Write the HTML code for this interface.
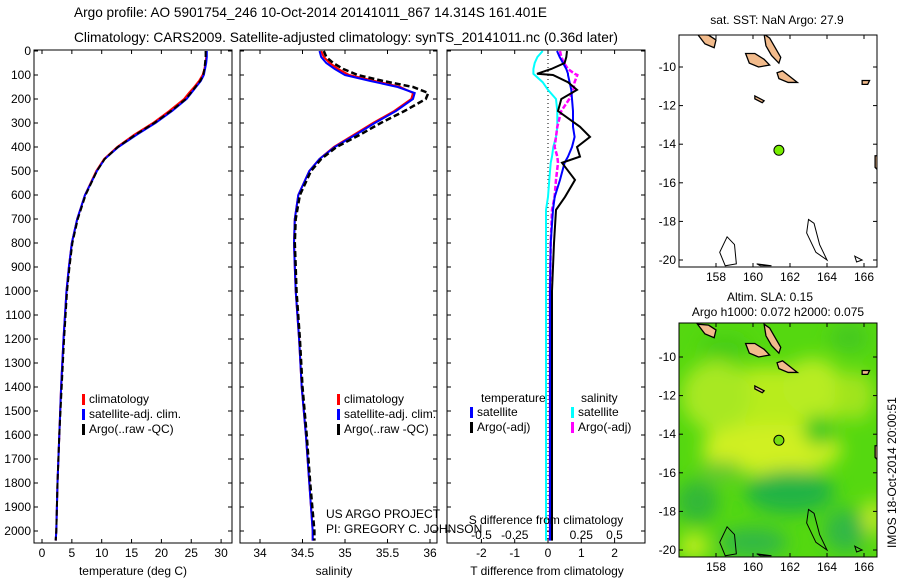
<!DOCTYPE html>
<html><head><meta charset="utf-8"><style>
body{margin:0;background:#fff;}
svg{display:block;font-family:"Liberation Sans",sans-serif;}
text{font-size:12px;fill:#000;}
</style></head><body>
<svg id="c" width="900" height="580" viewBox="0 0 900 580">
<text x="74" y="17" textLength="473" lengthAdjust="spacingAndGlyphs" style="font-size:14px">Argo profile: AO 5901754_246 10-Oct-2014 20141011_867 14.314S 161.401E</text>
<text x="74" y="42" textLength="544" lengthAdjust="spacingAndGlyphs" style="font-size:14px">Climatology: CARS2009. Satellite-adjusted climatology: synTS_20141011.nc (0.36d later)</text>
<g id="g"></g>
</svg>
<script>
// ---- profile data ----
const depths=[0,25,50,75,100,125,150,175,200,250,300,350,400,450,500,600,700,800,900,1000,1200,1400,1600,1800,2000,2040];
const tempClim=[27.5,27.5,27.4,27.2,26.9,26.3,25.5,24.6,23.8,21.3,18.6,15.4,12.6,10.4,9.1,7.2,5.9,5.0,4.5,4.1,3.6,3.2,2.9,2.6,2.4,2.3];
const tempSat=[27.6,27.6,27.5,27.3,27.1,26.6,25.8,25.0,24.2,21.8,19.0,15.8,12.8,10.5,9.2,7.2,5.9,5.0,4.5,4.1,3.6,3.2,2.9,2.6,2.4,2.3];
const tempArgo=[27.4,27.4,27.3,27.2,27.0,26.5,25.7,24.9,24.1,21.6,18.8,15.6,12.7,10.5,9.2,7.3,6.0,5.1,4.6,4.2,3.7,3.3,2.9,2.6,2.4,2.3];
const salClim=[34.72,34.75,34.82,34.92,35.05,35.35,35.65,35.8,35.78,35.58,35.33,35.1,34.87,34.7,34.58,34.45,34.41,34.40,34.41,34.42,34.46,34.49,34.54,34.58,34.62,34.62];
const salSat=[34.7,34.72,34.78,34.88,35.0,35.3,35.62,35.82,35.8,35.6,35.35,35.12,34.88,34.7,34.58,34.45,34.41,34.40,34.41,34.42,34.46,34.49,34.54,34.58,34.62,34.62];
const salArgo=[34.75,34.78,34.86,34.98,35.15,35.45,35.8,35.98,35.95,35.7,35.42,35.17,34.9,34.72,34.6,34.47,34.42,34.41,34.42,34.43,34.47,34.5,34.55,34.59,34.64,34.64];
// ---- difference data ----
const diffDepths=[0,25,50,75,95,100,130,162,200,250,316,358,400,440,466,537,608,662,800,1000,1200,1400,1600,1800,2000,2040];
const dTsat=[0.27,0.35,0.45,0.55,0.6,0.6,0.65,0.7,0.72,0.75,0.75,0.8,0.72,0.6,0.5,0.36,0.2,0.15,0.08,0.06,0.06,0.06,0.06,0.06,0.06,0.06];
const dTargo=[0.57,0.55,0.5,0.1,-0.33,0.15,0.6,0.87,0.4,0.3,0.96,1.26,0.87,0.96,0.42,0.81,0.51,0.24,0.18,0.12,0.12,0.12,0.12,0.12,0.12,0.12];
const dSsat=[-0.04,-0.08,-0.1,-0.11,-0.11,-0.1,-0.04,0.0,0.06,0.07,0.07,0.06,0.04,0.03,0.02,0.01,0.0,-0.015,-0.015,-0.015,-0.015,-0.015,-0.015,-0.015,-0.015,-0.015];
const dSargo=[0.09,0.1,0.12,0.15,0.2,0.22,0.2,0.19,0.16,0.1,0.07,0.06,0.05,0.07,0.075,0.06,0.05,0.03,0.02,0.015,0.015,0.015,0.015,0.015,0.015,0.015];
const depthTicks=[0,100,200,300,400,500,600,700,800,900,1000,1100,1200,1300,1400,1500,1600,1700,1800,1900,2000];
const tempTicks=[0,5,10,15,20,25,30];
const salTicks=[34,34.5,35,35.5,36];
const dTTicks=[-2,-1,0,1,2];
const dSTicks=[-0.5,-0.25,0,0.25,0.5];
const lonTicks=[158,160,162,164,166];
const latTicks=[-10,-12,-14,-16,-18,-20];
const argoLon=161.401, argoLat=-14.314;

const NS='http://www.w3.org/2000/svg';
const G=document.getElementById('g');
function el(tag,attrs,parent,txt){const e=document.createElementNS(NS,tag);for(const k in attrs)e.setAttribute(k,attrs[k]);if(txt!==undefined)e.textContent=txt;(parent||G).appendChild(e);return e;}
const yD=d=>51+d*0.24;
const TOP=51,BOT=543;
function frame(x0,x1,name){const r=el('rect',{x:x0,y:TOP-1,width:x1-x0,height:BOT-TOP+1,fill:'none',stroke:'#000'});}
function line(xs,dd,xf,col,w,dash,name){const p=el('polyline',{points:xs.map((v,i)=>xf(v).toFixed(1)+','+yD(dd[i]).toFixed(1)).join(' '),fill:'none',stroke:col,'stroke-width':w});if(dash)p.setAttribute('stroke-dasharray',dash);}
function xticks(ticks,f,labelY){ticks.forEach(t=>{const x=f(t);el('line',{x1:x,x2:x,y1:BOT,y2:BOT-4,stroke:'#000'});el('line',{x1:x,x2:x,y1:TOP-1,y2:TOP+3,stroke:'#000'});const tx=el('text',{x:x,y:labelY,'text-anchor':'middle'},null,String(t));});}
function yticks(x0,x1,labels){depthTicks.forEach(d=>{const y=yD(d);el('line',{x1:x0,x2:x0+4,y1:y,y2:y,stroke:'#000'});el('line',{x1:x1,x2:x1-4,y1:y,y2:y,stroke:'#000'});if(labels){const t=el('text',{x:x0-3,y:y+4,'text-anchor':'end'},null,String(d));}});}
function legend(x,y,items){items.forEach((it,i)=>{el('rect',{x:x,y:y+i*15-9,width:3,height:11,fill:it[0]});const t=el('text',{x:x+7,y:y+i*15},null,it[1]);});}

// Panel 1 temperature
const xT=t=>42+t*5.97;
frame(34,232,'temperature-panel');yticks(34,232,true);xticks(tempTicks,xT,557);
line(tempClim,depths,xT,'#f00',2,null,'temp-climatology-line');
line(tempSat,depths,xT,'#00f',2,null,'temp-satellite-line');
line(tempArgo,depths,xT,'#000',2,'6,3','temp-argo-line');
let t1=el('text',{x:133,y:575,'text-anchor':'middle'},null,'temperature (deg C)');
legend(82,403,[['#f00','climatology'],['#00f','satellite-adj. clim.'],['#000','Argo(..raw -QC)']]);

// Panel 2 salinity
const xS=s=>260+(s-34)*85;
frame(240,437,'salinity-panel');yticks(240,437,false);xticks(salTicks,xS,557);
line(salClim,depths,xS,'#f00',2,null,'sal-climatology-line');
line(salSat,depths,xS,'#00f',2,null,'sal-satellite-line');
line(salArgo,depths,xS,'#000',2.5,'6,3','sal-argo-line');
let t2=el('text',{x:334,y:575,'text-anchor':'middle'},null,'salinity');
legend(337,403,[['#f00','climatology'],['#00f','satellite-adj. clim.'],['#000','Argo(..raw -QC)']]);
let c1=el('text',{x:326,y:518},null,'US ARGO PROJECT');
let c2=el('text',{x:326,y:533},null,'PI: GREGORY C. JOHNSON');

// Panel 3 differences
const xdT=v=>548+v*33.3;
const xdS=v=>548+v*133;
frame(447,645,'difference-panel');yticks(447,645,false);
dTTicks.forEach(t=>{const x=xdT(t);el('line',{x1:x,x2:x,y1:BOT,y2:BOT-4,stroke:'#000'});el('line',{x1:x,x2:x,y1:TOP-1,y2:TOP+3,stroke:'#000'});const tx=el('text',{x:x,y:557,'text-anchor':'middle'},null,String(t));});
dSTicks.forEach(t=>{const tx=el('text',{x:xdS(t),y:539,'text-anchor':'middle'},null,String(t));});
el('line',{x1:548,x2:548,y1:51,y2:543,stroke:'#000','stroke-dasharray':'1,3'});
line(dSsat,diffDepths,xdS,'#0ff',2,null,'sal-diff-satellite-line');
line(dSargo,diffDepths,xdS,'#f0f',2.5,'5,2','sal-diff-argo-line');
line(dTsat,diffDepths,xdT,'#00f',2,null,'temp-diff-satellite-line');
line(dTargo,diffDepths,xdT,'#000',2,null,'temp-diff-argo-line');
let t3=el('text',{x:546,y:524,'text-anchor':'middle'},null,'S difference from climatology');
let t4=el('text',{x:547,y:575,'text-anchor':'middle'},null,'T difference from climatology');
let lh1=el('text',{x:481,y:402},null,'temperature');
let lh2=el('text',{x:581,y:402},null,'salinity');
legend(470,416,[['#00f','satellite'],['#000','Argo(-adj)']]);
legend(571,416,[['#0ff','satellite'],['#f0f','Argo(-adj)']]);

// Maps
function map(y0,y1,latAt10,latAt20,bg,name){
  const x0=679,x1=877;
  const X=lon=>716+(lon-158)*18.5;
  const Y=lat=>latAt10+(-10-lat)*(latAt20-latAt10)/10;
  const g=el('g',{});
  const clipId='clip'+y0;
  const cp=el('clipPath',{id:clipId},g);el('rect',{x:x0,y:y0,width:x1-x0,height:y1-y0},cp);
  const inner=el('g',{'clip-path':'url(#'+clipId+')'},g);
  el('rect',{x:x0,y:y0,width:x1-x0,height:y1-y0,fill:bg?'#55d810':'#fff'},inner);
  if(bg){
    const blobs=[[160.8,-12.8,70,45,'#b8ec1e'],[161,-14.8,70,25,'#d0f020'],[158,-12,35,35,'#a8e820'],[163.2,-11.5,30,28,'#b8ec20'],[165.5,-12,20,25,'#a0e41e'],[163.6,-13.8,16,15,'#33c822'],[158.5,-9.5,25,12,'#44cc18'],[162,-17,45,22,'#22b444'],[157,-17.5,22,22,'#33b838'],[160,-19.6,35,15,'#33b844'],[165,-19,22,22,'#33b844'],[166.5,-18.3,10,18,'#c8ec20'],[156.8,-19.8,14,12,'#ccf020'],[158.3,-15.9,22,10,'#66c830'],[165.2,-9,20,14,'#44c822']];
    const fid='blur'+y0;const f=el('filter',{id:fid,x:'-50%',y:'-50%',width:'200%',height:'200%'},g);el('feGaussianBlur',{stdDeviation:9},f);
    const bgG=el('g',{filter:'url(#'+fid+')'},inner);
    blobs.forEach(b=>el('ellipse',{cx:X(b[0]),cy:Y(b[1]),rx:b[2],ry:b[3],fill:b[4]},bgG));
  }
  const isl=[[[157.0,-8.3],[157.6,-8.35],[158.0,-8.6],[157.9,-9.0],[157.4,-8.8]],[[159.6,-9.3],[160.1,-9.3],[160.6,-9.6],[160.9,-9.9],[160.3,-10.0],[159.8,-9.8]],[[160.6,-8.3],[160.9,-8.5],[161.2,-9.0],[161.5,-9.5],[161.4,-9.8],[161.0,-9.4],[160.7,-8.9]],[[161.3,-10.3],[161.6,-10.2],[162.0,-10.5],[162.4,-10.8],[161.9,-10.8],[161.4,-10.6]],[[160.1,-11.5],[160.6,-11.75],[160.5,-11.85],[160.1,-11.65]],[[165.9,-10.7],[166.3,-10.7],[166.2,-10.9],[165.9,-10.9]],[[166.6,-14.6],[166.8,-14.6],[166.8,-15.4],[166.6,-15.2]]];
  isl.forEach(p=>el('polygon',{points:p.map(q=>X(q[0])+','+Y(q[1])).join(' '),fill:'#f2bb8c',stroke:'#000','stroke-width':1.3},inner));
  const reefs=[[[158.6,-18.8],[159.0,-19.2],[159.1,-20.2],[158.5,-20.3],[158.2,-19.6]],[[163.0,-17.9],[163.3,-18.1],[163.6,-19.2],[164.0,-20.0],[163.4,-19.6],[162.9,-18.6]],[[165.5,-19.8],[165.9,-20.0],[165.6,-20.1]],[[160.2,-20.2],[161.0,-20.3],[160.4,-20.3]]];
  reefs.forEach(p=>el('polygon',{points:p.map(q=>X(q[0])+','+Y(q[1])).join(' '),fill:'none',stroke:'#000','stroke-width':1},inner));
  el('circle',{cx:X(argoLon),cy:Y(argoLat),r:5,fill:bg?'#77dd11':'#77ee00',stroke:'#000'},g);
  el('rect',{x:x0,y:y0,width:x1-x0,height:y1-y0,fill:'none',stroke:'#000'},g);
  lonTicks.forEach(l=>{const x=X(l);el('line',{x1:x,x2:x,y1:y1,y2:y1-4,stroke:'#000'},g);el('line',{x1:x,x2:x,y1:y0,y2:y0+4,stroke:'#000'},g);el('text',{x:x,y:y1+14,'text-anchor':'middle'},g,String(l));});
  latTicks.forEach(l=>{const y=Y(l);el('line',{x1:x0,x2:x0+4,y1:y,y2:y,stroke:'#000'},g);el('line',{x1:x1,x2:x1-4,y1:y,y2:y,stroke:'#000'},g);el('text',{x:x0-3,y:y+4,'text-anchor':'end'},g,String(l));});
}
map(35,267,67,260,false,'sst-map');
map(323,557,357,550,true,'sla-map');
let m1=el('text',{x:777,y:24,'text-anchor':'middle'},null,'sat. SST: NaN Argo: 27.9');
let m2=el('text',{x:770,y:301,'text-anchor':'middle'},null,'Altim. SLA: 0.15');
let m3=el('text',{x:778,y:316,'text-anchor':'middle'},null,'Argo h1000: 0.072 h2000: 0.075');
let m4=el('text',{x:0,y:0,transform:'translate(896,548) rotate(-90)'},null,'IMOS 18-Oct-2014 20:00:51');
</script>
</body></html>
